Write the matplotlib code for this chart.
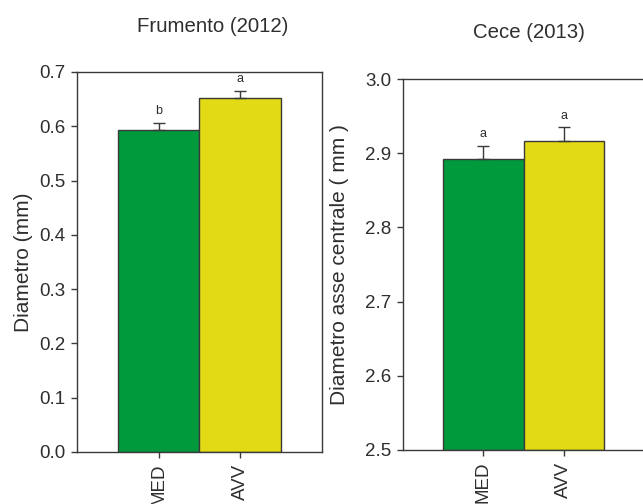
import matplotlib
matplotlib.use("Agg")
import matplotlib.pyplot as plt

plt.rcParams['font.family'] = ['Liberation Sans', 'DejaVu Sans']

# dati
trattamenti = ["MED", "AVV"]
frumento = [0.594, 0.653]
frumento_err = [0.012, 0.012]
frumento_lettere = ["b", "a"]
cece = [2.892, 2.916]
cece_err = [0.018, 0.019]
cece_lettere = ["a", "a"]

colori = ["#009a3d", "#e2da14"]
bordo = "#3a3a3a"
testo = "#2e2e2e"

fig = plt.figure(figsize=(6.43, 5.04), dpi=100)
ax1 = fig.add_axes([77/643, 52/504, 245/643, 380/504])
ax2 = fig.add_axes([403/643, 54/504, 241/643, 371/504])


def pannello(ax, valori, errori, lettere, ylim, yticks, ylabel, lab_size, lab_x,
             titolo, title_x, title_y):
    x = list(range(len(valori)))
    ax.bar(x, [v - ylim[0] for v in valori], bottom=ylim[0], width=1.0,
           color=colori, edgecolor=bordo, linewidth=1.0, zorder=2)
    ax.errorbar(x, valori, yerr=[[0, 0], errori], fmt="none", ecolor=bordo,
                elinewidth=1.0, capsize=4, capthick=1.0, zorder=3)
    for xi, v, e, l in zip(x, valori, errori, lettere):
        ax.annotate(l, (xi, v + e), xytext=(0, 4), textcoords="offset points",
                    ha="center", va="bottom", fontsize=9, color=testo)
    ax.set_xlim(-1, 2)
    ax.set_ylim(*ylim)
    ax.set_yticks(yticks)
    ax.set_yticklabels(["%.1f" % t for t in yticks])
    ax.set_xticks(x)
    ax.set_xticklabels(trattamenti, rotation=90, va="top")
    ax.tick_params(axis="both", direction="out", length=4.5, width=1.0,
                   color=bordo, labelsize=13.5, labelcolor=testo, pad=4)
    for s in ax.spines.values():
        s.set_color(bordo)
        s.set_linewidth(1.0)
    ax.set_ylabel(ylabel, fontsize=lab_size, color=testo)
    ax.yaxis.set_label_coords(lab_x, 0.5)
    fig.text(title_x, title_y, titolo, ha="center", va="center",
             fontsize=14.7, color=testo)


pannello(ax1, frumento, frumento_err, frumento_lettere, (0.0, 0.7),
         [0.0, 0.1, 0.2, 0.3, 0.4, 0.5, 0.6, 0.7], "Diametro (mm)", 15, -0.18,
         "Frumento (2012)", 213/643, 1 - 27/504)
pannello(ax2, cece, cece_err, cece_lettere, (2.5, 3.0),
         [2.5, 2.6, 2.7, 2.8, 2.9, 3.0], "Diametro asse centrale ( mm )", 15, -0.225,
         "Cece (2013)", 529/643, 1 - 32/504)

fig.savefig("out.png", dpi=100)
